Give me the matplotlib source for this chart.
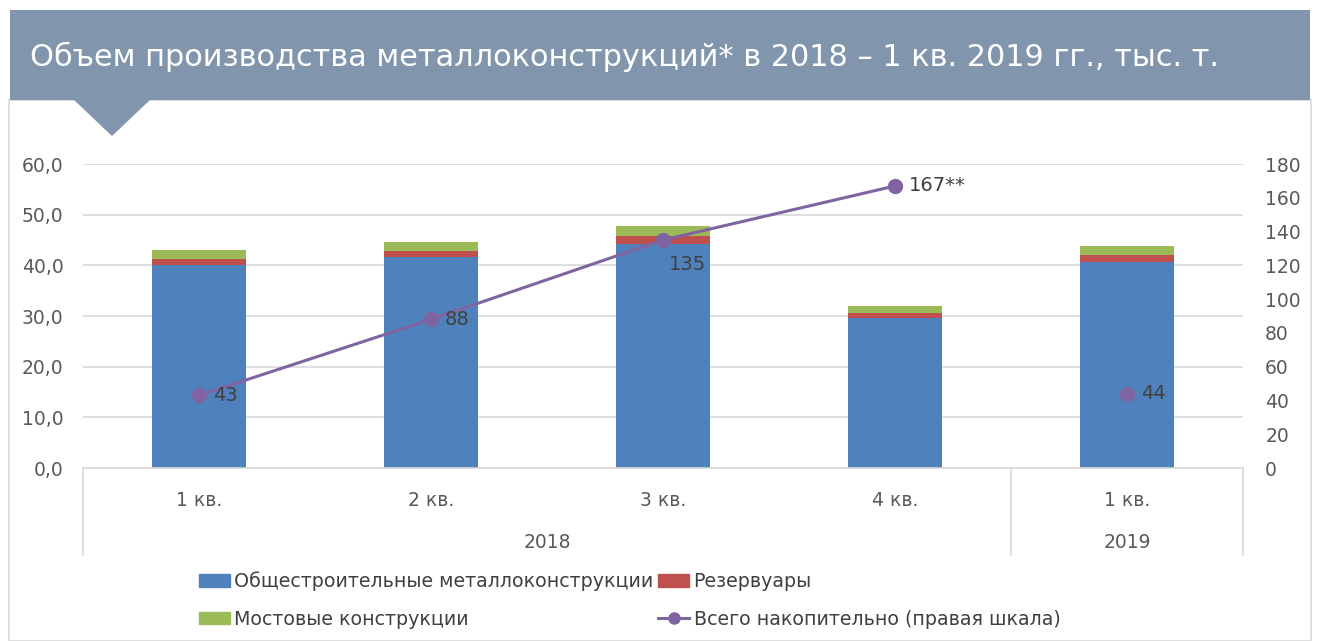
import matplotlib
matplotlib.use("Agg")
import matplotlib.pyplot as plt
import matplotlib.patches as mpatches
from matplotlib.lines import Line2D
import matplotlib.transforms as mtransforms
import numpy as np

plt.rcParams['font.family'] = ['DejaVu Sans']

# ---- data ----
quarters = ["1 кв.", "2 кв.", "3 кв.", "4 кв.", "1 кв."]
years = ["2018", "2019"]
year_spans = [(0, 3), (4, 4)]
general = [40.0, 41.6, 44.3, 29.7, 40.7]
tanks = [1.2, 1.2, 1.5, 0.9, 1.3]
bridges = [1.8, 1.9, 2.0, 1.4, 1.8]
cumulative = [43, 88, 135, 167, 44]
cum_labels = ["43", "88", "135", "167**", "44"]
left_ticks = [0, 10, 20, 30, 40, 50, 60]
right_ticks = [0, 20, 40, 60, 80, 100, 120, 140, 160, 180]

title = "Объем производства металлоконструкций* в 2018 – 1 кв. 2019 гг., тыс. т."
names = ["Общестроительные металлоконструкции", "Резервуары",
         "Мостовые конструкции", "Всего накопительно (правая шкала)"]

C_BLUE, C_RED, C_GREEN, C_PURPLE = "#4F81BD", "#C0504D", "#9BBB59", "#8064A2"
C_GRID = "#D9D9D9"
C_TICK = "#595959"
C_LBL = "#404040"
C_BANNER = "#8195AD"

W, H = 1318, 641
fig = plt.figure(figsize=(W / 100, H / 100), dpi=100)
fig.patch.set_facecolor("white")

def fx(px):
    return px / W

def fy(py):
    return 1 - py / H

# panel border
fig.add_artist(mpatches.Rectangle((fx(9), 0), fx(1311) - fx(9), fy(100) - 0,
                                  transform=fig.transFigure, facecolor="white",
                                  edgecolor=C_GRID, linewidth=1.2, zorder=0))
# banner
fig.add_artist(mpatches.Rectangle((fx(10), fy(100)), fx(1310) - fx(10), fy(10) - fy(100),
                                  transform=fig.transFigure, facecolor=C_BANNER,
                                  edgecolor="none", zorder=1))
fig.add_artist(mpatches.Polygon([(fx(73), fy(99)), (fx(151), fy(99)), (fx(112), fy(136))],
                                transform=fig.transFigure, facecolor=C_BANNER,
                                edgecolor="none", zorder=1))
fig.text(fx(30), fy(57), title, color="white", fontsize=21.9, va="center", ha="left", zorder=2)

# axes
ax = fig.add_axes([fx(83), fy(468), fx(1243) - fx(83), fy(164) - fy(468)])
ax.set_zorder(2)
ax.patch.set_visible(False)
x = np.arange(len(quarters))
bw = 0.405
g = np.array(general)
t = np.array(tanks)
b = np.array(bridges)
ax.bar(x, g, bw, color=C_BLUE, zorder=2)
ax.bar(x, t, bw, bottom=g, color=C_RED, zorder=2)
ax.bar(x, b, bw, bottom=g + t, color=C_GREEN, zorder=2)
ax.set_xlim(-0.5, len(quarters) - 0.5)
ax.set_ylim(0, 60)
ax.set_yticks(left_ticks)
ax.set_yticklabels([f"{v:.1f}".replace(".", ",") for v in left_ticks])
ax.yaxis.grid(True, color=C_GRID, linewidth=1.2, zorder=0)
ax.set_axisbelow(True)
for s in ["top", "right", "left"]:
    ax.spines[s].set_visible(False)
ax.spines["bottom"].set_color(C_GRID)
ax.spines["bottom"].set_linewidth(1.2)
ax.tick_params(axis="y", length=0, pad=14, labelsize=13.5, labelcolor=C_TICK)
ax.set_xticks([])

# category labels (two-level)
trans = mtransforms.blended_transform_factory(ax.transData, ax.transAxes)
ax_h = 468 - 164
def ay(py):
    return (468 - py) / ax_h
for i, q in enumerate(quarters):
    ax.text(i, ay(500), q, transform=trans, ha="center", va="center",
            fontsize=13.5, color=C_TICK, clip_on=False)
for yr, (a0, a1) in zip(years, year_spans):
    ax.text((a0 + a1) / 2, ay(543), yr,
            transform=trans, ha="center", va="center", fontsize=13.5, color=C_TICK,
            clip_on=False)
for xs in [-0.5, year_spans[0][1] + 0.5, len(quarters) - 0.5]:
    ax.add_line(Line2D([xs, xs], [0, ay(555)], transform=trans, color=C_GRID,
                       linewidth=1.2, clip_on=False))

# right axis line
ax2 = ax.twinx()
ax2.set_zorder(3)
ax2.patch.set_visible(False)
ax2.set_ylim(0, 180)
ax2.set_yticks(right_ticks)
ax2.tick_params(axis="y", length=0, pad=16, labelsize=13.5, labelcolor=C_TICK)
for s in ax2.spines.values():
    s.set_visible(False)
cum = np.array(cumulative, dtype=float)
ax2.plot(x[:4], cum[:4], color=C_PURPLE, linewidth=2.2, marker="o", markersize=10,
         zorder=4)
ax2.plot(x[4:], cum[4:], color=C_PURPLE, linestyle="none", marker="o", markersize=10,
         zorder=4)
offsets = [(10, 0, "left", "center"), (10, 0, "left", "center"), (4, -11, "left", "top"),
           (10, 0, "left", "center"), (10, 0, "left", "center")]
for xi, v, lbl, (dx, dy, ha, va) in zip(x, cum, cum_labels, offsets):
    ax2.annotate(lbl, (xi, v), xytext=(dx, dy), textcoords="offset points",
                 ha=ha, va=va, fontsize=14, color=C_LBL, zorder=5)

# legend
handles = [mpatches.Patch(color=C_BLUE), mpatches.Patch(color=C_GREEN),
           mpatches.Patch(color=C_RED),
           Line2D([], [], color=C_PURPLE, marker="o", markersize=8, linewidth=2.2)]
labels = [names[0], names[2], names[1], names[3]]
leg = fig.legend(handles, labels, ncol=2, loc="center left",
                 bbox_to_anchor=(fx(182), fy(600)), frameon=False, fontsize=13.7,
                 labelcolor=C_LBL, handlelength=1.6, handleheight=0.65,
                 handletextpad=0.25, columnspacing=0.25, labelspacing=0.98)

fig.savefig("out.png", dpi=100)
